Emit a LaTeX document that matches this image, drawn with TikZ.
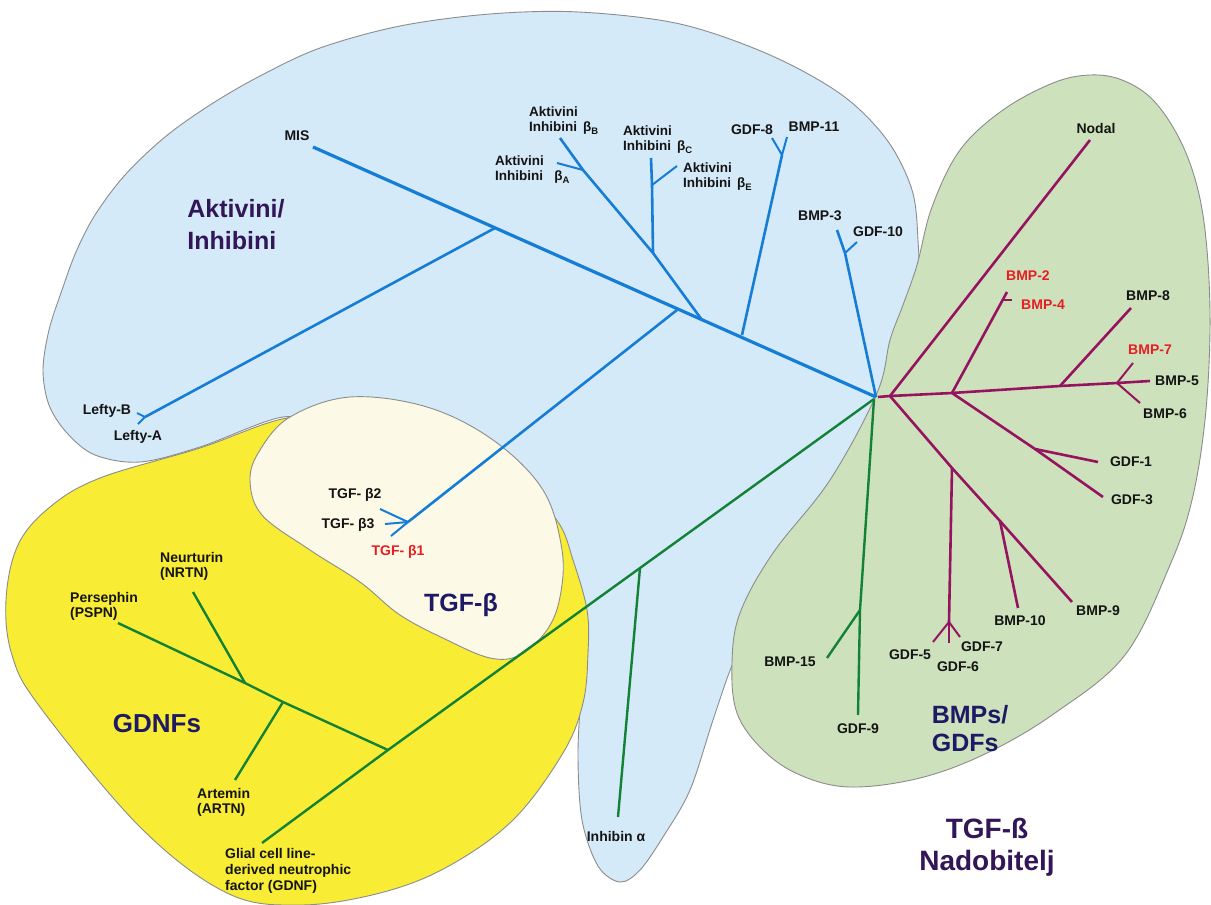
\documentclass[tikz,border=0pt]{standalone}
\usepackage{fontspec}
\setmainfont{Liberation Sans}
\definecolor{blueF}{RGB}{213,234,248}
\definecolor{greenF}{RGB}{205,226,188}
\definecolor{yellowF}{RGB}{248,236,52}
\definecolor{creamF}{RGB}{253,249,231}
\definecolor{lineblue}{RGB}{22,125,215}
\definecolor{linemag}{RGB}{150,20,95}
\definecolor{linegreen}{RGB}{18,130,55}
\definecolor{labred}{RGB}{230,30,35}
\definecolor{bigpurple}{RGB}{50,22,88}
\definecolor{bignavy}{RGB}{30,25,100}
\begin{document}
\begin{tikzpicture}[x=1pt,y=-1pt,
  region/.style={draw=black!45, line width=0.9pt},
  bltrunk/.style={draw=lineblue, line width=3.2pt, line join=round},
  bl/.style={draw=lineblue, line width=2.6pt, line join=round},
  bltwig/.style={draw=lineblue, line width=2pt, line join=round},
  mg/.style={draw=linemag, line width=2.6pt, line join=round},
  mgtwig/.style={draw=linemag, line width=2pt, line join=round},
  gr/.style={draw=linegreen, line width=2.4pt, line join=round},
  lab/.style={font=\bfseries\fontsize{14}{15}\selectfont, inner sep=0pt, text=black!92},
  aklab/.style={lab, font=\bfseries\fontsize{13.5}{15}\selectfont, align=left, anchor=west},
  redlab/.style={lab, text=labred},
  biglab/.style={font=\bfseries\fontsize{25}{32}\selectfont, inner sep=0pt, align=left},
  ]
\useasboundingbox (0,0) rectangle (1211,905);
\fill[white] (0,0) rectangle (1211,905);

% ---- regions ----
\path[region, fill=blueF] plot[smooth cycle, tension=0.55] coordinates {
 (62,290) (76,252) (95,215) (125,175) (165,137) (210,105) (260,76) (320,48) (400,26)
 (490,14) (579,12) (680,24) (770,55) (842,95) (887,140) (912,190) (918,240) (918,290)
 (905,360) (870,440) (800,545) (760,607) (733,663) (713,720) (690,790) (663,837)
 (640,870) (620,882) (598,866) (582,820) (578,753) (582,680) (586,620) (560,580)
 (500,560) (400,500) (320,432) (283,417) (200,447) (140,462) (95,455) (67,433)
 (49,405) (43,370) (49,330)};

\path[region, fill=yellowF] plot[smooth cycle, tension=0.6] coordinates {
 (287,418) (200,448) (100,478) (50,507) (18,545) (6,600) (12,655) (40,707)
 (140,827) (227,893) (300,905) (380,893) (447,867) (513,820) (563,753) (583,703)
 (588,653) (587,610) (573,560) (558,522) (520,482) (440,442) (350,422)};

\path[region, fill=creamF] plot[smooth cycle, tension=0.6] coordinates {
 (350,397) (427,407) (493,440) (543,490) (562,550) (560,597) (547,630) (520,655)
 (490,658) (447,640) (400,615) (360,582) (310,550) (262,515) (250,480) (260,450) (290,417)};

\path[region, fill=greenF] plot[smooth cycle, tension=0.6] coordinates {
 (877,393) (890,340) (903,305) (917,265) (932,207) (960,150) (1003,110) (1053,83)
 (1090,75) (1122,80) (1153,100) (1180,140) (1198,190) (1207,250) (1210,330)
 (1205,420) (1192,500) (1170,565) (1125,655) (1055,713) (987,753) (920,778)
 (850,787) (800,775) (763,750) (737,713) (732,663) (740,613) (773,553) (830,480)};

% ---- coordinates ----
\coordinate (C) at (876,397);
\coordinate (misE) at (313,147);
\coordinate (b1) at (742,335);
\coordinate (b1f) at (782,155);
\coordinate (gdf8E) at (772,138);
\coordinate (bmp11E) at (787,137);
\coordinate (b2) at (702,320);
\coordinate (b2f) at (653,253);
\coordinate (bAf) at (583,170);
\coordinate (bAE) at (557,163);
\coordinate (bBE) at (560,138);
\coordinate (bCE) at (651,158);
\coordinate (bEf) at (652,185);
\coordinate (bEE) at (677,166);
\coordinate (b3) at (677,310);
\coordinate (tf) at (408,522);
\coordinate (t2E) at (380,509);
\coordinate (t3E) at (385,524);
\coordinate (t1E) at (391,536);
\coordinate (b4) at (495,228);
\coordinate (lf) at (145,417);
\coordinate (lBE) at (137,413);
\coordinate (lAE) at (138,424);
\coordinate (bmp3E) at (837,230);
\coordinate (b5f) at (845,253);
\coordinate (gdf10E) at (857,242);

\coordinate (M) at (878,397);
\coordinate (m1) at (890,396);
\coordinate (m2) at (952,393);
\coordinate (m3) at (1060,386);
\coordinate (m4) at (1117,383);
\coordinate (bmp5E) at (1150,381);
\coordinate (nodalE) at (1090,140);
\coordinate (bmp2E) at (1007,292);
\coordinate (b4a) at (1004,300);
\coordinate (bmp4E) at (1012,300);
\coordinate (bmp8E) at (1131,308);
\coordinate (bmp7E) at (1133,363);
\coordinate (bmp6E) at (1140,403);
\coordinate (p1) at (952,468);
\coordinate (p2) at (1000,521);
\coordinate (bmp9E) at (1072,602);
\coordinate (bmp10E) at (1018,608);
\coordinate (gf) at (949,622);
\coordinate (gdf5E) at (933,642);
\coordinate (gdf6E) at (949,643);
\coordinate (gdf7E) at (960,637);
\coordinate (q1) at (1035,449);
\coordinate (gdf3E) at (1103,497);
\coordinate (gdf1E) at (1098,462);

\coordinate (G) at (874,399);
\coordinate (k1) at (860,610);
\coordinate (gdf9E) at (858,715);
\coordinate (bmp15E) at (827,658);
\coordinate (inh) at (640,568);
\coordinate (inhE) at (618,817);
\coordinate (gd) at (388,750);
\coordinate (gdnfE) at (262,843);
\coordinate (a1) at (283,702);
\coordinate (n1) at (245,683);
\coordinate (pspnE) at (118,623);
\coordinate (artnE) at (235,780);
\coordinate (nrtnE) at (193,592);

% ---- blue tree ----
\draw[bltrunk] (C) -- (misE);
\draw[bl] (b1) -- (b1f);
\draw[bltwig] (gdf8E) -- (b1f) -- (bmp11E);
\draw[bl] (b2) -- (b2f) -- (bAf) -- (bBE);
\draw[bltwig] (bAf) -- (bAE);
\draw[bl] (b2f) -- (bEf) -- (bCE);
\draw[bltwig] (bEf) -- (bEE);
\draw[bl] (b3) -- (tf);
\draw[bltwig] (t2E) -- (tf) -- (t1E);
\draw[bltwig] (tf) -- (t3E);
\draw[bl] (b4) -- (lf);
\draw[bltwig] (lBE) -- (lf) -- (lAE);
\draw[bl] (C) -- (b5f) -- (bmp3E);
\draw[bltwig] (b5f) -- (gdf10E);

% ---- magenta tree ----
\draw[mg] (M) -- (m1) -- (m2) -- (m3) -- (m4) -- (bmp5E);
\draw[mg] (m1) -- (nodalE);
\draw[mg] (m2) -- (bmp2E);
\draw[mgtwig] (b4a) -- (bmp4E);
\draw[mg] (m3) -- (bmp8E);
\draw[mgtwig] (m4) -- (bmp7E);
\draw[mgtwig] (m4) -- (bmp6E);
\draw[mg] (m1) -- (p1) -- (p2) -- (bmp9E);
\draw[mg] (p1) -- (gf);
\draw[mgtwig] (gf) -- (gdf5E);
\draw[mgtwig] (gf) -- (gdf6E);
\draw[mgtwig] (gf) -- (gdf7E);
\draw[mg] (p2) -- (bmp10E);
\draw[mg] (m2) -- (q1) -- (gdf3E);
\draw[mg] (q1) -- (gdf1E);

% ---- green tree ----
\draw[gr] (G) -- (k1) -- (gdf9E);
\draw[gr] (k1) -- (bmp15E);
\draw[gr] (G) -- (inh) -- (gd) -- (gdnfE);
\draw[gr] (inh) -- (inhE);
\draw[gr] (gd) -- (a1) -- (n1) -- (pspnE);
\draw[gr] (a1) -- (artnE);
\draw[gr] (n1) -- (nrtnE);

% ---- labels ----
\node[lab] (mis) at (297,136) {MIS};
\node[biglab, text=bigpurple] (akt) at (236,225) {Aktivini/\\Inhibini};
\node[aklab] (aB) at (529,121) {Aktivini\\Inhibini \,β\textsubscript{B}};
\node[aklab] (aA) at (495,170) {Aktivini\\Inhibini \ \ β\textsubscript{A}};
\node[aklab] (aC) at (623,140) {Aktivini\\Inhibini \,β\textsubscript{C}};
\node[aklab] (aE) at (683,177) {Aktivini\\Inhibini \,β\textsubscript{E}};
\node[lab] (gdf8) at (752,130) {GDF-8};
\node[lab] (bmp11) at (814,127) {BMP-11};
\node[lab] (bmp3) at (820,216) {BMP-3};
\node[lab] (gdf10) at (878,232) {GDF-10};
\node[lab] (nodal) at (1096,128) {Nodal};
\node[redlab] (bmp2) at (1028,276) {BMP-2};
\node[redlab] (bmp4) at (1043,305) {BMP-4};
\node[lab] (bmp8) at (1148,296) {BMP-8};
\node[redlab] (bmp7) at (1150,350) {BMP-7};
\node[lab] (bmp5) at (1177,381) {BMP-5};
\node[lab] (bmp6) at (1165,414) {BMP-6};
\node[lab] (gdf1) at (1131,462) {GDF-1};
\node[lab] (gdf3) at (1132,500) {GDF-3};
\node[lab] (bmp9) at (1098,611) {BMP-9};
\node[lab] (bmp10) at (1020,621) {BMP-10};
\node[lab] (gdf5) at (910,655) {GDF-5};
\node[lab] (gdf7) at (982,647) {GDF-7};
\node[lab] (gdf6) at (958,667) {GDF-6};
\node[lab] (bmp15) at (790,662) {BMP-15};
\node[lab] (gdf9) at (858,729) {GDF-9};
\node[biglab, align=left, font=\bfseries\fontsize{25}{28}\selectfont, text=bignavy] (bmps) at (970,729) {BMPs/\\GDFs};
\node[biglab, align=center, font=\bfseries\fontsize{28}{32}\selectfont, text=bigpurple] (title) at (987,847) {TGF-ß\\Nadobitelj};
\node[lab] (inhb) at (616,836) {Inhibin α};
\node[lab] (tgf2) at (355,495) {TGF- β2};
\node[lab] (tgf3) at (348,525) {TGF- β3};
\node[redlab] (tgf1) at (398,552) {TGF- β1};
\node[biglab, text=bignavy] (tgfb) at (461,605) {TGF-β};
\node[lab, align=left, anchor=west] (nrtn) at (160,566) {Neurturin\\(NRTN)};
\node[lab, align=left, anchor=west] (pspn) at (70,606) {Persephin\\(PSPN)};
\node[biglab, font=\bfseries\fontsize{26}{30}\selectfont, text=bignavy] (gdnfs) at (157,724) {GDNFs};
\node[lab, align=left, anchor=west] (artn) at (197,802) {Artemin\\(ARTN)};
\node[lab, align=left, anchor=west, font=\bfseries\fontsize{14}{16}\selectfont] (gdnf) at (225,871) {Glial cell line-\\derived neutrophic\\factor (GDNF)};
\node[lab] (leftyB) at (107,411) {Lefty-B};
\node[lab] (leftyA) at (138,437) {Lefty-A};
\end{tikzpicture}
\end{document}
